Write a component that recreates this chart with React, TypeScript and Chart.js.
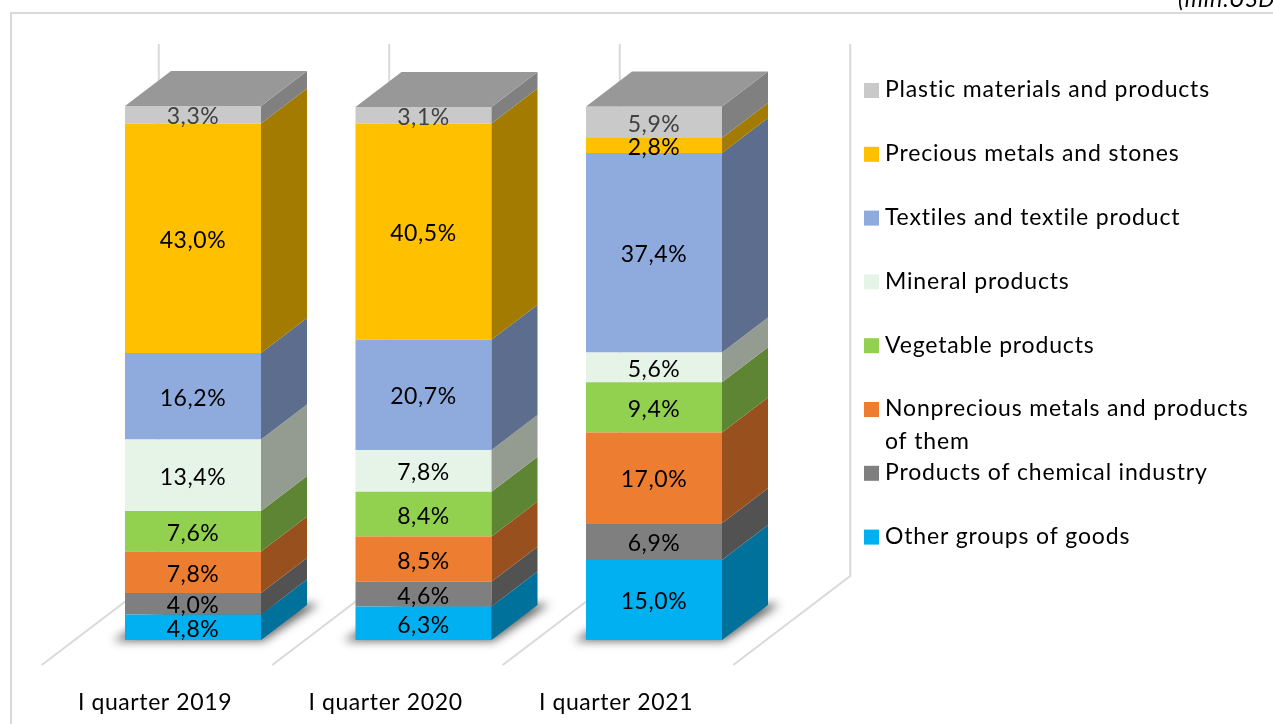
import React, { useEffect, useRef } from "react";
import { Chart, registerables } from "chart.js";

Chart.register(...registerables);

const categories = ["I quarter 2019", "I quarter 2020", "I quarter 2021"];
const other = [4.8, 6.3, 15.0];
const chemical = [4.0, 4.6, 6.9];
const nonprecious = [7.8, 8.5, 17.0];
const vegetable = [7.6, 8.4, 9.4];
const mineral = [13.4, 7.8, 5.6];
const textiles = [16.2, 20.7, 37.4];
const precious = [43.0, 40.5, 2.8];
const plastic = [3.3, 3.1, 5.9];
const unitNote = "(mln.USD";

const FONT = "Lato";
const FS = 23;
const DEPTH_X = 46;
const DEPTH_Y = 35;

const seriesDefs = [
  { label: "Other groups of goods", lines: ["Other groups of goods"], data: other, color: "#00b0f0", side: "#00719b", text: "#000000" },
  { label: "Products of chemical industry", lines: ["Products of chemical industry"], data: chemical, color: "#7f7f7f", side: "#525252", text: "#000000" },
  { label: "Nonprecious metals and products of them", lines: ["Nonprecious metals and products", "of them"], data: nonprecious, color: "#ed7d31", side: "#98501f", text: "#000000" },
  { label: "Vegetable products", lines: ["Vegetable products"], data: vegetable, color: "#92d050", side: "#5e8533", text: "#000000" },
  { label: "Mineral products", lines: ["Mineral products"], data: mineral, color: "#e6f4e7", side: "#949c91", text: "#000000" },
  { label: "Textiles and textile product", lines: ["Textiles and textile product"], data: textiles, color: "#8faadc", side: "#5c6d8d", text: "#000000" },
  { label: "Precious metals and stones", lines: ["Precious metals and stones"], data: precious, color: "#ffc000", side: "#a37b00", text: "#000000" },
  { label: "Plastic materials and products", lines: ["Plastic materials and products"], data: plastic, color: "#c9c9c9", side: "#808080", text: "#404040" },
];

const backdrop = {
  id: "backdrop",
  beforeDraw(chart: any) {
    chart.ctx.letterSpacing = "0.6px";
  },
  beforeDatasetsDraw(chart: any) {
    const { ctx, chartArea, scales } = chart;
    const x = scales.x;
    ctx.save();
    ctx.strokeStyle = "#d9d9d9";
    ctx.lineWidth = 2;
    ctx.beginPath();
    ctx.moveTo(11, 724);
    ctx.lineTo(11, 13);
    ctx.lineTo(1273, 13);
    ctx.stroke();

    ctx.letterSpacing = "1px";
    ctx.font = `italic ${FS}px ${FONT}`;
    ctx.fillStyle = "#000000";
    ctx.textAlign = "left";
    ctx.textBaseline = "alphabetic";
    ctx.fillText(unitNote, 1178, 7);

    const step = x.getPixelForValue(1) - x.getPixelForValue(0);
    const floorFront = chartArea.bottom + 25;
    const floorBack = chartArea.bottom - 64;
    const wallTop = chartArea.top - 62;
    for (let i = 0; i <= categories.length; i++) {
      const fx = x.getPixelForValue(0) - step / 2 + i * step - 36;
      const bx = fx + 117;
      ctx.beginPath();
      ctx.moveTo(fx, floorFront);
      ctx.lineTo(bx, floorBack);
      ctx.lineTo(bx, wallTop);
      ctx.stroke();
    }

    // soft shadows on the floor, beneath each bar
    const meta = chart.getDatasetMeta(0);
    ctx.fillStyle = "rgba(0,0,0,0.6)";
    ctx.filter = "blur(5px)";
    meta.data.forEach((bar: any) => {
      const l = bar.x - bar.width / 2;
      const r = bar.x + bar.width / 2;
      const b = bar.base;
      ctx.beginPath();
      ctx.moveTo(l - 12, b + 1);
      ctx.lineTo(r + 2, b + 1);
      ctx.lineTo(r + DEPTH_X + 12, b - DEPTH_Y - 1);
      ctx.lineTo(l + DEPTH_X, b - DEPTH_Y - 1);
      ctx.closePath();
      ctx.fill();
    });
    ctx.filter = "none";
    ctx.restore();
  },
};

const faces = {
  id: "faces",
  afterDatasetsDraw(chart: any) {
    const { ctx } = chart;
    ctx.save();
    seriesDefs.forEach((s, di) => {
      chart.getDatasetMeta(di).data.forEach((bar: any) => {
        const r = bar.x + bar.width / 2;
        ctx.fillStyle = s.side;
        ctx.beginPath();
        ctx.moveTo(r, bar.y);
        ctx.lineTo(r + DEPTH_X, bar.y - DEPTH_Y);
        ctx.lineTo(r + DEPTH_X, bar.base - DEPTH_Y);
        ctx.lineTo(r, bar.base);
        ctx.closePath();
        ctx.fill();
      });
    });
    const topIndex = seriesDefs.length - 1;
    chart.getDatasetMeta(topIndex).data.forEach((bar: any) => {
      const l = bar.x - bar.width / 2;
      const r = bar.x + bar.width / 2;
      ctx.fillStyle = "#989898";
      ctx.beginPath();
      ctx.moveTo(l, bar.y);
      ctx.lineTo(l + DEPTH_X, bar.y - DEPTH_Y);
      ctx.lineTo(r + DEPTH_X, bar.y - DEPTH_Y);
      ctx.lineTo(r, bar.y);
      ctx.closePath();
      ctx.fill();
    });

    ctx.letterSpacing = "0.6px";
    ctx.font = `${FS}px ${FONT}`;
    ctx.textAlign = "center";
    ctx.textBaseline = "middle";
    seriesDefs.forEach((s, di) => {
      ctx.fillStyle = s.text;
      chart.getDatasetMeta(di).data.forEach((bar: any, i: number) => {
        const t = s.data[i].toFixed(1).replace(".", ",") + "%";
        ctx.fillText(t, bar.x, (bar.y + bar.base) / 2 + 2);
      });
    });
    ctx.restore();
  },
};

const legendRows = {
  id: "legendRows",
  afterDraw(chart: any) {
    const { ctx } = chart;
    ctx.save();
    ctx.letterSpacing = "0.83px";
    ctx.font = `${FS}px ${FONT}`;
    ctx.textAlign = "left";
    ctx.textBaseline = "middle";
    const rows = [...seriesDefs].reverse();
    const yStart = 90;
    const rowStep = 63.8;
    rows.forEach((s, i) => {
      const y = yStart + i * rowStep;
      ctx.fillStyle = s.color;
      ctx.fillRect(864, y - 7, 15, 15);
      ctx.fillStyle = "#000000";
      s.lines.forEach((line, li) => ctx.fillText(line, 885, y + li * 33));
    });
    ctx.restore();
  },
};

export default function App() {
  const ref = useRef<HTMLCanvasElement>(null);
  useEffect(() => {
    const chart = new Chart(ref.current as HTMLCanvasElement, {
      type: "bar",
      data: {
        labels: categories,
        datasets: seriesDefs.map((s) => ({
          label: s.label,
          data: s.data,
          backgroundColor: s.color,
          borderWidth: 0,
          barPercentage: 0.59,
          categoryPercentage: 1,
        })),
      },
      options: {
        responsive: false,
        animation: false,
        devicePixelRatio: 1,
        layout: { padding: { left: 77.75, right: 503.75, top: 106, bottom: 0 } },
        plugins: { legend: { display: false }, title: { display: false }, tooltip: { enabled: false } },
        scales: {
          x: {
            stacked: true,
            grid: { display: false },
            border: { display: false },
            afterFit: (scale: any) => { scale.height = 84; },
            ticks: {
              color: "#000000",
              font: { family: FONT, size: FS },
              padding: 41,
              labelOffset: -38,
              maxRotation: 0,
              autoSkip: false,
            },
          },
          y: { stacked: true, display: false, min: 0, max: 100.1 },
        },
      } as any,
      plugins: [backdrop, faces, legendRows],
    });
    return () => chart.destroy();
  }, []);
  return (
    <canvas
      ref={ref}
      width={1273}
      height={724}
      style={{ position: "fixed", left: 0, top: 0, width: 1273, height: 724 }}
    />
  );
}
